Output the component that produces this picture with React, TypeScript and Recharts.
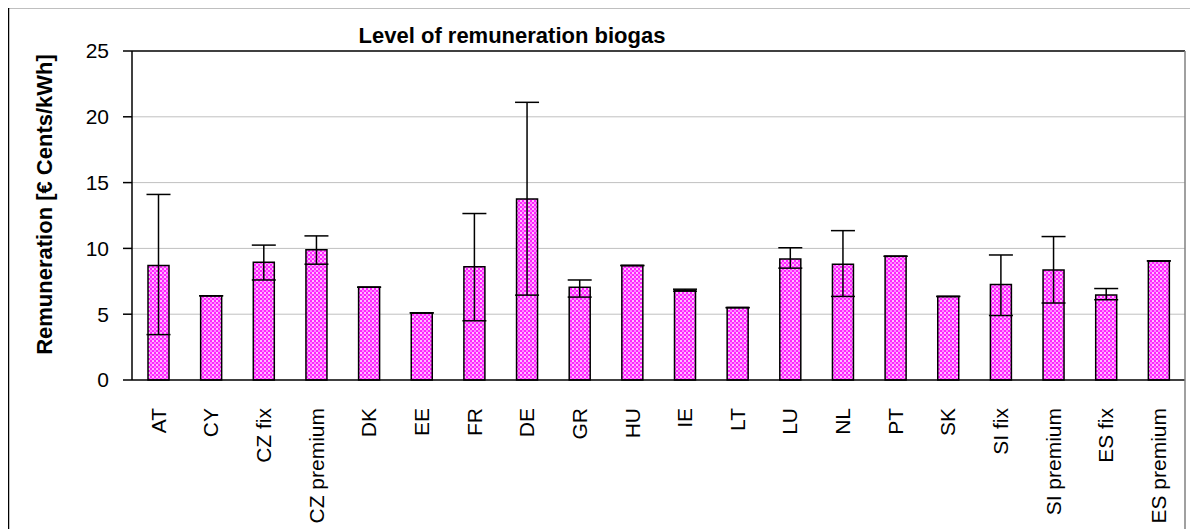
import React from "react";
import { BarChart, Bar, XAxis, YAxis, CartesianGrid, ErrorBar, ReferenceLine } from "recharts";

const categories = ["AT","CY","CZ fix","CZ premium","DK","EE","FR","DE","GR","HU","IE","LT","LU","NL","PT","SK","SI fix","SI premium","ES fix","ES premium"];
const values = [8.7, 6.4, 8.95, 9.9, 7.05, 5.1, 8.6, 13.75, 7.05, 8.7, 6.8, 5.5, 9.2, 8.8, 9.4, 6.35, 7.25, 8.35, 6.45, 9.05];
const lows = [3.45, 6.4, 7.6, 8.8, 7.05, 5.1, 4.5, 6.45, 6.3, 8.7, 6.75, 5.5, 8.5, 6.35, 9.4, 6.35, 4.9, 5.85, 6.1, 9.05];
const highs = [14.1, 6.4, 10.25, 10.95, 7.05, 5.1, 12.65, 21.1, 7.6, 8.7, 6.9, 5.5, 10.05, 11.35, 9.4, 6.35, 9.5, 10.9, 6.95, 9.05];
const yTicks = [0, 5, 10, 15, 20, 25];
const boundaryTicks = Array.from({ length: categories.length + 1 }, (_, i) => i);

const data = categories.map((c, i) => ({
  name: c,
  value: values[i],
  err: [values[i] - lows[i], highs[i] - values[i]],
}));

const FONT = "'Liberation Sans', Arial, sans-serif";
const W = 1190;
const H = 521;
const M = { top: 43, right: 13, left: 64, bottom: 0 };
const Y_AXIS_W = 60;
const X_AXIS_H = 149;

const CatTick = (props: any) => {
  const { x, y, payload } = props;
  return (
    <text
      transform={`translate(${x},${y + 28}) rotate(-90)`}
      textAnchor="end"
      dy="0.35em"
      fontSize={21}
      fontFamily={FONT}
      fill="#000"
    >
      {payload.value}
    </text>
  );
};

export default function App() {
  const plotRight = W - M.right;
  const plotTop = M.top;
  return (
    <div style={{ position: "relative", width: W, height: H, background: "#fff" }}>
      <BarChart width={W} height={H} data={data} margin={M} barSize={21}>
        <defs>
          <pattern id="pink" width="4" height="4" patternUnits="userSpaceOnUse">
            <rect width="4" height="4" fill="#ff22ff" />
            <rect x="0" y="0" width="2" height="2" fill="#ffaaff" />
            <rect x="2" y="2" width="2" height="2" fill="#ff88ff" />
            <rect x="0.5" y="0.5" width="1" height="1" fill="#ffffff" />
          </pattern>
        </defs>
        <CartesianGrid vertical={false} stroke="#c0c0c0" horizontalValues={[5, 10, 15, 20]} />
        <XAxis
          xAxisId="b"
          type="number"
          dataKey="idx"
          domain={[0, categories.length]}
          ticks={boundaryTicks}
          interval={0}
          height={0}
          tick={false}
          axisLine={false}
          tickLine={{ stroke: "#808080", strokeWidth: 1.5 }}
          tickSize={7}
          allowDataOverflow
        />
        <XAxis
          xAxisId="a"
          dataKey="name"
          type="category"
          interval={0}
          height={X_AXIS_H}
          tickLine={false}
          tickSize={0}
          tickMargin={0}
          axisLine={{ stroke: "#000", strokeWidth: 1.5 }}
          tick={<CatTick />}
        />
        <YAxis
          domain={[0, 25]}
          ticks={yTicks}
          interval={0}
          width={Y_AXIS_W}
          axisLine={{ stroke: "#000", strokeWidth: 1.5 }}
          tickLine={{ stroke: "#000", strokeWidth: 1.5 }}
          tickSize={9}
          tickMargin={14}
          tick={{ fontSize: 21, fontFamily: FONT, fill: "#000" }}
        />
        <ReferenceLine y={25} xAxisId="a" stroke="#000" strokeWidth={1.5} />
        <Bar dataKey="value" xAxisId="a" fill="url(#pink)" stroke="#000" strokeWidth={1.5} isAnimationActive={false}>
          <ErrorBar dataKey="err" width={12} stroke="#000" strokeWidth={1.5} direction="y" />
        </Bar>
      </BarChart>
      <svg width={W} height={H} style={{ position: "absolute", left: 0, top: 0, pointerEvents: "none" }}>
        <line x1={0.5} y1={-0.5} x2={W} y2={-0.5} stroke="#000" strokeWidth={1.5} />
        <line x1={0.5} y1={-0.5} x2={0.5} y2={H} stroke="#000" strokeWidth={1.5} />
        <line x1={plotRight} y1={plotTop} x2={plotRight} y2={H} stroke="#808080" strokeWidth={1.5} />
        <text x={504} y={35} textAnchor="middle" fontSize={22} fontWeight="bold" fontFamily={FONT} fill="#000">
          Level of remuneration biogas
        </text>
        <text
          transform={`translate(36,${(plotTop + H - X_AXIS_H) / 2 - 11}) rotate(-90)`}
          textAnchor="middle"
          dy="0.35em"
          fontSize={22}
          fontWeight="bold"
          fontFamily={FONT}
          fill="#000"
        >
          Remuneration [€ Cents/kWh]
        </text>
      </svg>
    </div>
  );
}
